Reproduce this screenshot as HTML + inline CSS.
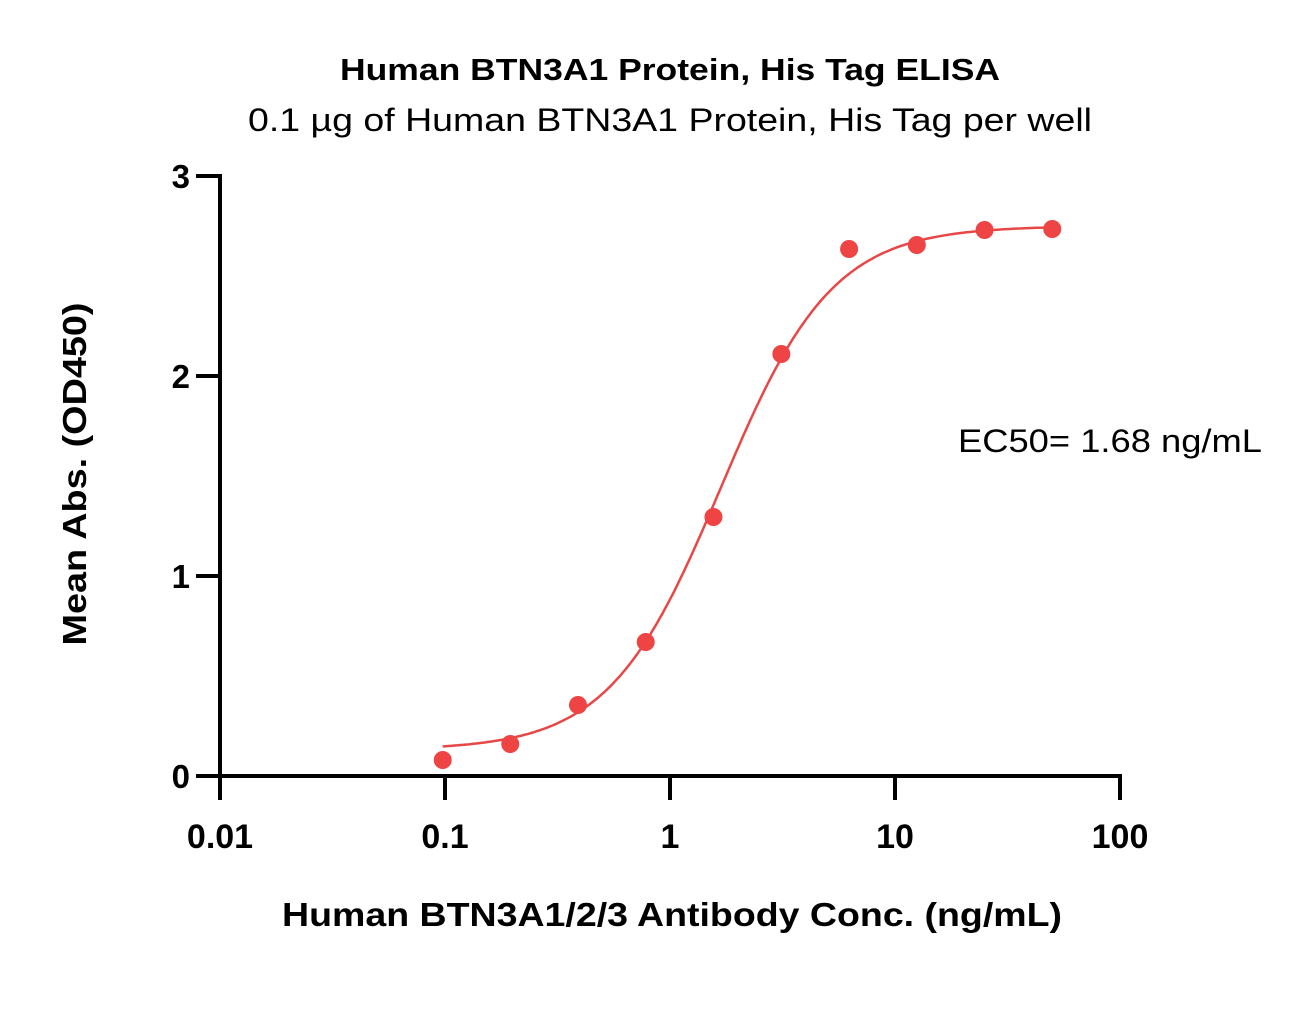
<!DOCTYPE html>
<html><head><meta charset="utf-8"><style>
body{margin:0;background:#fff;}
svg{display:block;font-family:"Liberation Sans",sans-serif;}
</style></head><body>
<svg id="chart" width="1306" height="1032" viewBox="0 0 1306 1032">
<text x="670" y="80" text-anchor="middle" font-size="31" font-weight="bold" textLength="660" lengthAdjust="spacingAndGlyphs">Human BTN3A1 Protein, His Tag ELISA</text>
<text x="670" y="131" text-anchor="middle" font-size="32" textLength="844" lengthAdjust="spacingAndGlyphs">0.1 µg of Human BTN3A1 Protein, His Tag per well</text>
<text x="1110" y="452" text-anchor="middle" font-size="32" textLength="304" lengthAdjust="spacingAndGlyphs">EC50= 1.68 ng/mL</text>
<text transform="translate(86,474) rotate(-90)" text-anchor="middle" font-size="33" font-weight="bold" textLength="343" lengthAdjust="spacingAndGlyphs">Mean Abs. (OD450)</text>
<text x="672" y="926" text-anchor="middle" font-size="33" font-weight="bold" textLength="780" lengthAdjust="spacingAndGlyphs">Human BTN3A1/2/3 Antibody Conc. (ng/mL)</text>
<g id="axes"></g>
<g id="plot"></g>
</svg>
<script>
const xConc=[0.0977,0.195,0.39,0.78,1.56,3.125,6.25,12.5,25,50];
const yOD=[0.08,0.16,0.355,0.67,1.295,2.11,2.635,2.655,2.73,2.735];
const xTicks=[0.01,0.1,1,10,100];
const xTickLabels=["0.01","0.1","1","10","100"];
const yTicks=[0,1,2,3];
const yTickLabels=["0","1","2","3"];
const fitBottom=0.13, fitTop=2.75, fitEC50=1.68, fitHill=1.75;

const NS="http://www.w3.org/2000/svg";
const X=v=>220+225*(Math.log10(v)+2);
const Y=v=>776-200*v;
function mk(t,a,p){const e=document.createElementNS(NS,t);for(const k in a)e.setAttribute(k,a[k]);p.appendChild(e);return e;}
const ax=document.getElementById('axes'), pl=document.getElementById('plot');
let e=mk('line',{x1:220,y1:Y(3)-2,x2:220,y2:Y(0)+2,stroke:'#000','stroke-width':4},ax);


e=mk('line',{x1:218,y1:Y(0),x2:1122,y2:Y(0),stroke:'#000','stroke-width':4},ax);


yTicks.forEach((v,i)=>{
 let t=mk('line',{x1:196,y1:Y(v),x2:220,y2:Y(v),stroke:'#000','stroke-width':4},ax);
 
 
 let l=mk('text',{x:190,y:Y(v)+12,'text-anchor':'end','font-size':33,'font-weight':'bold'},ax);
 l.textContent=yTickLabels[i];
 
 
});
xTicks.forEach((v,i)=>{
 let t=mk('line',{x1:X(v),y1:Y(0),x2:X(v),y2:Y(0)+24,stroke:'#000','stroke-width':4},ax);
 
 
 let l=mk('text',{x:X(v),y:848,'text-anchor':'middle','font-size':34,'font-weight':'bold'},ax);
 l.textContent=xTickLabels[i];
 
 
});
let d='';
const lo=Math.log10(xConc[0]),hi=Math.log10(xConc[xConc.length-1]);
for(let i=0;i<=200;i++){const lx=lo+(hi-lo)*i/200,x=Math.pow(10,lx);
 const y=fitBottom+(fitTop-fitBottom)/(1+Math.pow(fitEC50/x,fitHill));
 d+=(i?'L':'M')+X(x).toFixed(1)+','+Y(y).toFixed(1);}
e=mk('path',{d:d,fill:'none',stroke:'#e84747','stroke-width':2.5},pl);


xConc.forEach((v,i)=>{
 let c=mk('circle',{cx:X(v),cy:Y(yOD[i]),r:9,fill:'#ee4444'},pl);
 
 
});
</script>
</body></html>
